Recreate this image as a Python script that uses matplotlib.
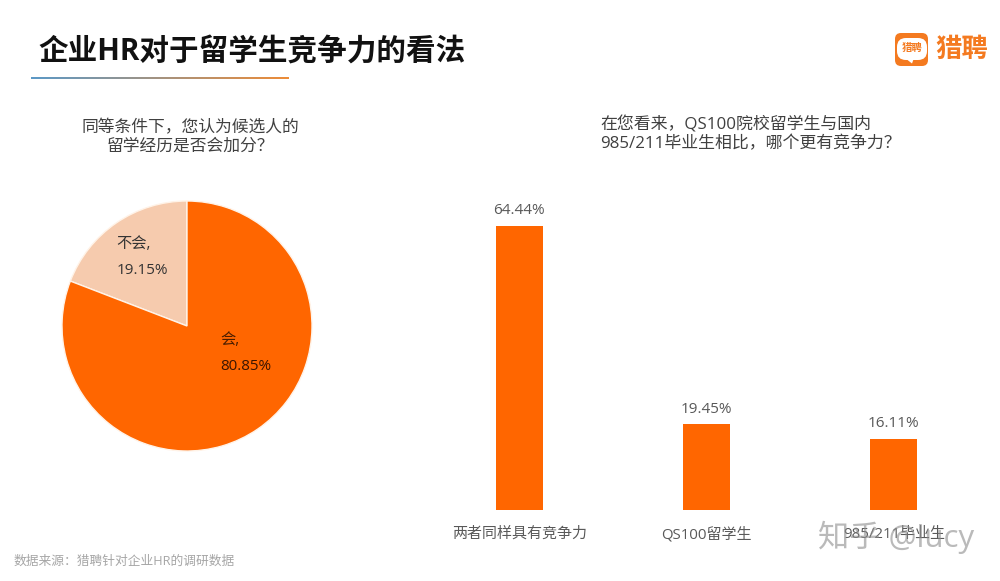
import numpy as np
import matplotlib
matplotlib.use("Agg")
import matplotlib.pyplot as plt
from matplotlib.patches import FancyBboxPatch, Polygon

plt.rcParams['font.family'] = ['Open Sans', 'Noto Sans CJK SC', 'DejaVu Sans']

title = "企业HR对于留学生竞争力的看法"
pie_title = "同等条件下，您认为候选人的\n留学经历是否会加分？"
bar_title = "在您看来，QS100院校留学生与国内\n985/211毕业生相比，哪个更有竞争力？"
source = "数据来源：猎聘针对企业HR的调研数据"

pie_names = ["不会", "会"]
pie_values = [19.15, 80.85]
pie_colors = ["#F6CBAE", "#FF6600"]

bar_names = ["两者同样具有竞争力", "QS100留学生", "985/211毕业生"]
bar_values = [64.44, 19.45, 16.11]

W, H = 1000, 581
fig = plt.figure(figsize=(W / 100, H / 100), dpi=100, facecolor="white")


def px_axes(left, top, right, bottom, **kw):
    return fig.add_axes([left / W, 1 - bottom / H, (right - left) / W, (bottom - top) / H], **kw)


# pie
ax_pie = px_axes(57, 196, 317, 456)
ax_pie.pie(pie_values, colors=pie_colors, startangle=90, radius=1,
           wedgeprops=dict(edgecolor="#FFF3E8", linewidth=1.0))
ax_pie.set_xlim(-1.04, 1.04)
ax_pie.set_ylim(-1.04, 1.04)

# bars
ax_bar = px_axes(425.5, 180, 987.5, 510)
ax_bar.bar(range(len(bar_names)), bar_values, width=0.25, color="#FF6600")
ax_bar.set_xlim(-0.5, 2.5)
ax_bar.set_ylim(0, 74.9)
ax_bar.set_xticks(range(len(bar_names)))
ax_bar.set_xticklabels(bar_names, fontsize=10.8, color="#595959")
ax_bar.tick_params(axis="x", length=0, pad=12)
ax_bar.set_yticks([])
for s in ax_bar.spines.values():
    s.set_visible(False)
ax_bar.patch.set_alpha(0)
for i, v in enumerate(bar_values):
    ax_bar.annotate("%.2f%%" % v, (i, v), xytext=(0, 5.5), textcoords="offset points",
                    ha="center", va="bottom", fontsize=11, color="#595959")

# everything else is placed in pixels
ov = fig.add_axes([0, 0, 1, 1], zorder=5)
ov.set_xlim(0, W)
ov.set_ylim(H, 0)
ov.axis("off")
ov.patch.set_alpha(0)

ov.text(38, 53, title, fontsize=21.3, fontweight="bold", color="#111111", va="center", ha="left")
ov.text(190, 137, pie_title, fontsize=12.1, color="#404040", ha="center", va="center", linespacing=1.2)
ov.text(600, 134, bar_title, fontsize=12.2, color="#404040", ha="left", va="center", linespacing=1.2)
ov.text(14, 561, source, fontsize=9.2, color="#A6A6A6", ha="left", va="center")

# pie labels
ov.text(116, 245, pie_names[0] + ",", fontsize=11, color="#333333", va="center")
ov.text(117, 270, "%.2f%%" % pie_values[0], fontsize=11, color="#333333", va="center")
ov.text(220, 341, pie_names[1] + ",", fontsize=11, color="#4A1E00", va="center")
ov.text(220, 366, "%.2f%%" % pie_values[1], fontsize=11, color="#3A1500", va="center")

# gradient rule under title
grad = np.linspace(0, 1, 256)
c0 = np.array([0.36, 0.60, 0.78])
c1 = np.array([0.93, 0.55, 0.22])
ramp = (c0[None, :] * (1 - grad[:, None]) + c1[None, :] * grad[:, None])[None, :, :]
ov.imshow(ramp, extent=[31, 289, 79.5, 77.5], aspect="auto", zorder=2)
ov.set_xlim(0, W)
ov.set_ylim(H, 0)

# logo
ov.add_patch(FancyBboxPatch((895, 33), 33, 33, boxstyle="round,pad=0,rounding_size=6",
                            fc="#F47A20", ec="none"))
ov.add_patch(FancyBboxPatch((897, 38), 30, 22, boxstyle="round,pad=0,rounding_size=9",
                            fc="white", ec="none"))
ov.add_patch(Polygon([[905, 58], [914, 58], [912, 63.5]], fc="white", ec="none"))
ov.text(912, 49, "猎聘", fontsize=7.5, color="#F47A20", ha="center", va="center", fontweight="bold")
ov.text(962, 49, "猎聘", fontsize=19, color="#F47A20", ha="center", va="center", fontweight="bold")

# watermark
ov.text(818, 537, "知乎 @lucy", fontsize=22.5, color="#8C8C8C", alpha=0.6, ha="left", va="center")

fig.savefig("out.png", dpi=100, facecolor="white")
